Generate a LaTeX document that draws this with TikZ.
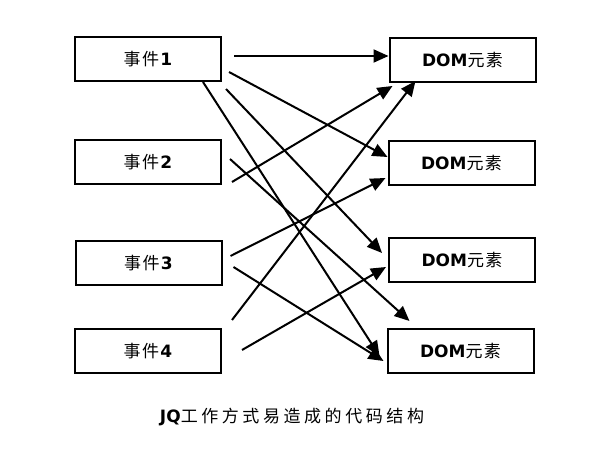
\documentclass[tikz,border=0pt]{standalone}
\usepackage{fontspec}
\setmainfont{DejaVu Sans}
\newfontfamily\cjk[LetterSpace=8]{Noto Sans CJK SC}
\newfontfamily\capcjk[LetterSpace=21]{Noto Sans CJK SC}
\usetikzlibrary{arrows.meta}

\newcommand{\ev}[1]{{\cjk 事件}\textbf{#1}}
\newcommand{\domel}{\textbf{DOM}{\cjk 元素}}

\begin{document}
\begin{tikzpicture}[
    x=1pt,y=1pt,
    box/.style={rectangle,draw,line width=2pt,minimum width=146pt,
                minimum height=44pt,inner sep=0pt,font=\fontsize{17}{20}\selectfont},
    arr/.style={-{Triangle[length=15pt,width=13pt]},line width=2pt}
  ]
    \useasboundingbox (0,0) rectangle (591,464);
    \node[box] (e1) at (148,405) {\ev{1}};
    \node[box] (e2) at (148,302) {\ev{2}};
    \node[box] (e3) at (148.5,201) {\ev{3}};
    \node[box] (e4) at (148,113) {\ev{4}};
    \node[box] (d1) at (462.5,404) {\domel};
    \node[box] (d2) at (461.5,301) {\domel};
    \node[box] (d3) at (462,204) {\domel};
    \node[box] (d4) at (460.5,113) {\domel};
    \draw[arr] ([xshift=12pt,yshift=3pt]e1.east) -- ([yshift=4pt]d1.west);
    \draw[arr] ([xshift=7pt,yshift=-13pt]e1.east) -- ([yshift=6pt]d2.west);
    \draw[arr] ([xshift=4pt,yshift=-7pt]e1.south east) -- ([xshift=-6pt,yshift=7pt]d3.west);
    \draw[arr] ([xshift=-19pt]e1.south east) -- ([xshift=-7pt,yshift=-5pt]d4.west);
    \draw[arr] ([xshift=10pt,yshift=3pt]e2.south east) -- ([xshift=4pt,yshift=-3pt]d1.south west);
    \draw[arr] ([xshift=8pt,yshift=3pt]e2.east) -- ([xshift=23pt,yshift=7pt]d4.north west);
    \draw[arr] ([xshift=8pt,yshift=7pt]e3.east) -- ([xshift=-2pt,yshift=8pt]d2.south west);
    \draw[arr] ([xshift=11pt,yshift=-4pt]e3.east) -- ([xshift=-3pt,yshift=-10pt]d4.west);
    \draw[arr] ([xshift=10pt,yshift=8pt]e4.north east) -- ([xshift=27pt,yshift=2pt]d1.south west);
    \draw[arr] ([xshift=20pt,yshift=1pt]e4.east) -- ([xshift=-2pt,yshift=-7pt]d3.west);
    \node[font=\fontsize{17}{20}\selectfont] (cap) at (292,47) {\textbf{JQ}{\capcjk 工作方式易造成的代码结构}};
\end{tikzpicture}
\end{document}
